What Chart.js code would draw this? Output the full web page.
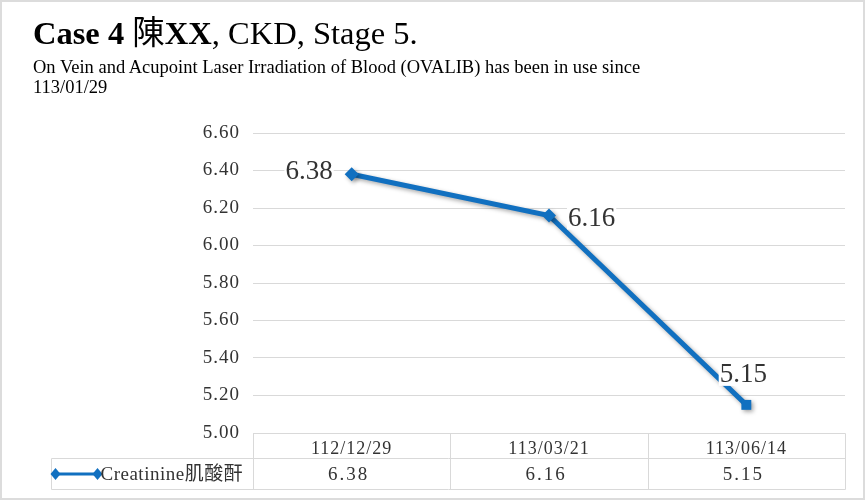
<!DOCTYPE html>
<html lang="en">
  <head>
    <meta charset="UTF-8" />
    <script src="https://cdn.jsdelivr.net/npm/chart.js"></script>
    <title>Case 4 - Creatinine</title>
    <style>
      html,
      body {
        margin: 0;
        padding: 0;
        background: #fff;
      }
      .frame {
        position: relative;
        width: 865px;
        height: 500px;
        overflow: hidden;
        background: #fff;
      }
      .frame canvas {
        position: absolute;
        left: 0;
        top: 0;
      }
      .edge {
        position: absolute;
        left: 0;
        top: 0;
        right: 0;
        bottom: 0;
        border: 2px solid #dcdcdc;
        pointer-events: none;
      }
      .title {
        position: absolute;
        left: 33px;
        top: 17px;
        margin: 0;
        font-family: "Liberation Serif", "Noto Sans CJK TC", serif;
        font-size: 32.5px;
        line-height: 33px;
        font-weight: normal;
        color: #000;
        white-space: nowrap;
      }
      .title b {
        font-weight: bold;
      }
      .title .cjk {
        font-weight: normal;
      }
      .subtitle {
        position: absolute;
        left: 33px;
        top: 58px;
        margin: 0;
        font-family: "Liberation Serif", serif;
        font-size: 18.5px;
        line-height: 19.5px;
        color: #000;
        white-space: nowrap;
      }
    </style>
  </head>
  <body>
    <div class="frame">
      <canvas id="creatinineChart" width="865" height="500"></canvas>
      <h1 class="title"><b>Case 4 <span class="cjk">陳</span>XX</b>, CKD, Stage 5.</h1>
      <p class="subtitle">
        On Vein and Acupoint Laser Irradiation of Blood (OVALIB) has been in use since<br />113/01/29
      </p>
      <div class="edge"></div>
    </div>

    <script>
      // chart data
      const visitDates = ["112/12/29", "113/03/21", "113/06/14"];
      const creatinine = [6.38, 6.16, 5.15];
      const seriesName = "Creatinine肌酸酐";
      const yMin = 5.0;
      const yMax = 6.6;
      const yStep = 0.2;

      const BLUE = "#1170c0";
      const TEXT = "#333333";
      const GRID = "#d9d9d9";
      const SERIF = "'Liberation Serif', 'Noto Sans CJK TC', serif";

      // axis text in the original is a wide-set font, so space the letters a bit
      const textSpacing = {
        id: "textSpacing",
        beforeDraw(chart) {
          chart.ctx.letterSpacing = "1px";
        },
      };

      // soft drop shadow under the line, like the office chart
      const lineShadow = {
        id: "lineShadow",
        beforeDatasetsDraw(chart) {
          const ctx = chart.ctx;
          ctx.save();
          ctx.shadowColor = "rgba(0, 0, 0, 0.35)";
          ctx.shadowBlur = 4;
          ctx.shadowOffsetX = 2;
          ctx.shadowOffsetY = 2;
        },
        afterDatasetsDraw(chart) {
          chart.ctx.restore();
        },
      };

      // value labels next to each point, with white background
      const pointLabels = {
        id: "pointLabels",
        afterDraw(chart, args, opts) {
          const ctx = chart.ctx;
          const meta = chart.getDatasetMeta(0);
          const values = chart.data.datasets[0].data;
          ctx.save();
          ctx.letterSpacing = "0px";
          ctx.font = opts.font;
          ctx.textBaseline = "middle";
          meta.data.forEach((pt, i) => {
            const text = values[i].toFixed(2);
            const w = ctx.measureText(text).width;
            const place = opts.placement[i];
            let tx, ty;
            if (place === "left") {
              tx = pt.x - opts.gap - w;
              ty = pt.y - 2;
            } else if (place === "right") {
              tx = pt.x + opts.gap;
              ty = pt.y + 3;
            } else {
              tx = pt.x - 3 - w / 2;
              ty = pt.y - 30;
            }
            ctx.fillStyle = "#fff";
            ctx.fillRect(tx - 1, ty - 11, w + 2, 22);
            ctx.fillStyle = TEXT;
            ctx.textAlign = "left";
            ctx.fillText(text, tx, ty);
          });
          ctx.restore();
        },
      };

      // data table under the plot: header row is the x axis, then one value row
      const dataTable = {
        id: "dataTable",
        afterDraw(chart, args, opts) {
          const { ctx, chartArea } = chart;
          const xs = chart.scales.x;
          const top = Math.round(chartArea.bottom) + 0.5;
          const mid = Math.round(xs.bottom) + 0.5;
          const bottom = mid + opts.rowHeight;
          const left = Math.round(chartArea.left) + 0.5;
          const right = Math.round(chartArea.right) + 0.5;
          const keyLeft = opts.keyLeft + 0.5;
          const n = visitDates.length;
          const colW = (chartArea.right - chartArea.left) / n;

          ctx.save();
          ctx.strokeStyle = GRID;
          ctx.lineWidth = 1;
          ctx.beginPath();
          ctx.moveTo(left, top);
          ctx.lineTo(right, top);
          ctx.moveTo(keyLeft, mid);
          ctx.lineTo(right, mid);
          ctx.moveTo(keyLeft, bottom);
          ctx.lineTo(right, bottom);
          ctx.moveTo(keyLeft, mid);
          ctx.lineTo(keyLeft, bottom);
          ctx.moveTo(left, top);
          ctx.lineTo(left, bottom);
          for (let i = 1; i <= n; i++) {
            const cx = Math.round(chartArea.left + i * colW) + 0.5;
            ctx.moveTo(cx, top);
            ctx.lineTo(cx, bottom);
          }
          ctx.stroke();

          // values
          const rowMid = (mid + bottom) / 2;
          ctx.font = opts.font;
          ctx.letterSpacing = "2px";
          ctx.fillStyle = TEXT;
          ctx.textAlign = "center";
          ctx.textBaseline = "middle";
          creatinine.forEach((v, i) => {
            ctx.fillText(v.toFixed(2), xs.getPixelForValue(i) - 3, rowMid + 1);
          });

          // legend key
          const kx0 = keyLeft + 4;
          const kx1 = keyLeft + 46;
          ctx.strokeStyle = BLUE;
          ctx.lineWidth = 3;
          ctx.beginPath();
          ctx.moveTo(kx0, rowMid);
          ctx.lineTo(kx1, rowMid);
          ctx.stroke();
          ctx.fillStyle = BLUE;
          [kx0, kx1].forEach((dx) => {
            ctx.beginPath();
            ctx.moveTo(dx, rowMid - 6);
            ctx.lineTo(dx + 5, rowMid);
            ctx.lineTo(dx, rowMid + 6);
            ctx.lineTo(dx - 5, rowMid);
            ctx.closePath();
            ctx.fill();
          });
          ctx.fillStyle = TEXT;
          ctx.textAlign = "left";
          ctx.letterSpacing = "0.5px";
          ctx.fillText(seriesName, kx1 + 3, rowMid + 1);
          ctx.restore();
        },
      };

      const ctx = document.getElementById("creatinineChart").getContext("2d");

      new Chart(ctx, {
        type: "line",
        data: {
          labels: visitDates,
          datasets: [
            {
              label: seriesName,
              data: creatinine,
              borderColor: BLUE,
              backgroundColor: BLUE,
              borderWidth: 5,
              tension: 0,
              fill: false,
              pointStyle: ["rectRot", "rectRot", "rect"],
              pointRadius: 7,
              pointBorderWidth: 0,
              pointBackgroundColor: BLUE,
            },
          ],
        },
        options: {
          responsive: false,
          animation: false,
          layout: {
            padding: { top: 133, right: 20, bottom: 42, left: 0 },
          },
          plugins: {
            legend: { display: false },
            tooltip: { enabled: false },
            pointLabels: {
              font: "27px " + SERIF,
              placement: ["left", "right", "above"],
              gap: 19,
            },
            dataTable: {
              font: "19px " + SERIF,
              rowHeight: 31,
              keyLeft: 51,
            },
          },
          scales: {
            x: {
              offset: true,
              grid: { display: false },
              border: { display: false },
              ticks: {
                color: TEXT,
                font: { family: SERIF, size: 18 },
                padding: -3,
                maxRotation: 0,
              },
              afterFit(scale) {
                scale.height = 25;
              },
            },
            y: {
              min: yMin,
              max: yMax,
              grid: { color: GRID, drawTicks: false },
              border: { display: false },
              ticks: {
                stepSize: yStep,
                color: TEXT,
                font: { family: SERIF, size: 19 },
                padding: 13,
                callback: (v) => v.toFixed(2),
              },
              afterFit(scale) {
                scale.width = 253;
              },
            },
          },
        },
        plugins: [textSpacing, lineShadow, pointLabels, dataTable],
      });
    </script>
  </body>
</html>
